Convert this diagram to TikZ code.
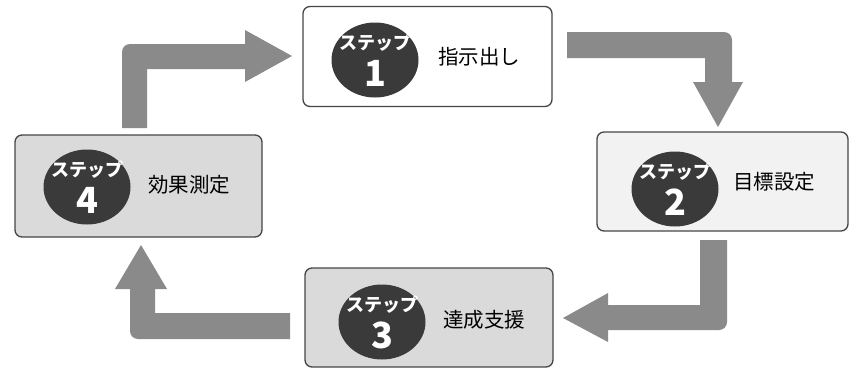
\documentclass[tikz,border=0pt]{standalone}
\usepackage{fontspec}
\newfontfamily\jp{Noto Sans CJK JP}
\usetikzlibrary{shapes.geometric}
\definecolor{arrowgray}{RGB}{138,138,138}
\definecolor{ringdark}{RGB}{58,58,58}
\definecolor{edgegray}{RGB}{70,70,70}
\definecolor{fillA}{RGB}{255,255,255}
\definecolor{fillB}{RGB}{242,242,242}
\definecolor{fillC}{RGB}{218,218,218}
\tikzset{
  stepbox/.style={draw=edgegray, line width=1.3pt, rounded corners=7pt, inner sep=0pt},
  badge/.style={ellipse, fill=ringdark, minimum width=87pt, minimum height=75pt, inner sep=0pt},
  badgetop/.style={text=white, font=\jp\bfseries\fontsize{18}{20}\selectfont, inner sep=0pt},
  badgenum/.style={text=white, font=\jp\bfseries\fontsize{36}{38}\selectfont, inner sep=0pt},
  label/.style={anchor=west, font=\jp\fontsize{20.5}{22}\selectfont, inner sep=0pt},
  blockarrow/.style={fill=arrowgray}
}
\begin{document}
\begin{tikzpicture}[x=1pt,y=-1pt]
\useasboundingbox (0,0) rectangle (852,372);
% boxes
\node[stepbox, fill=fillA, minimum width=249pt, minimum height=100pt] (b1) at (427.5,56.5) {};
\node[stepbox, fill=fillB, minimum width=251pt, minimum height=99pt] (b2) at (722.5,181.5) {};
\node[stepbox, fill=fillC, minimum width=248pt, minimum height=99pt] (b3) at (429,317.5) {};
\node[stepbox, fill=fillC, minimum width=247pt, minimum height=102pt] (b4) at (138.5,186) {};
% badges
\node[badge] (e1) at (375,60) {};
\node[badgetop] (s1) at (375,43) {ステップ};
\node[badgenum] (n1) at (375,73) {1};
\node[badge] (e2) at (675,189) {};
\node[badgetop] (s2) at (675,172) {ステップ};
\node[badgenum] (n2) at (675,202) {2};
\node[badge] (e3) at (382,322) {};
\node[badgetop] (s3) at (382,305) {ステップ};
\node[badgenum] (n3) at (382,335) {3};
\node[badge] (e4) at (87,187) {};
\node[badgetop] (s4) at (87,170) {ステップ};
\node[badgenum] (n4) at (87,200) {4};
% labels
\node[label] (t1) at (438,57) {指示出し};
\node[label] (t2) at (733,182) {目標設定};
\node[label] (t3) at (443,320) {達成支援};
\node[label] (t4) at (148,185) {効果測定};
% block arrows
\fill[blockarrow] (122,128) -- (122,52) arc[start angle=180,end angle=270,radius=8] -- (245,44) -- (245,30) -- (292,56) -- (245,82) -- (245,69) -- (147,69) -- (147,128) -- cycle;
\fill[blockarrow] (567,32) -- (724,32) arc[start angle=270,end angle=360,radius=8] -- (732,82) -- (743,82) -- (718,127) -- (693,82) -- (705,82) -- (705,58) -- (567,58) -- cycle;
\fill[blockarrow] (700,240) -- (727,240) -- (727,322) arc[start angle=0,end angle=90,radius=8] -- (608,330) -- (608,342) -- (563,318) -- (608,293) -- (608,305) -- (700,305) -- cycle;
\fill[blockarrow] (290,313) -- (290,339) -- (138,339) arc[start angle=90,end angle=180,radius=8] -- (130,289) -- (115,289) -- (141,245) -- (167,289) -- (155,289) -- (155,313) -- cycle;
\end{tikzpicture}
\end{document}
